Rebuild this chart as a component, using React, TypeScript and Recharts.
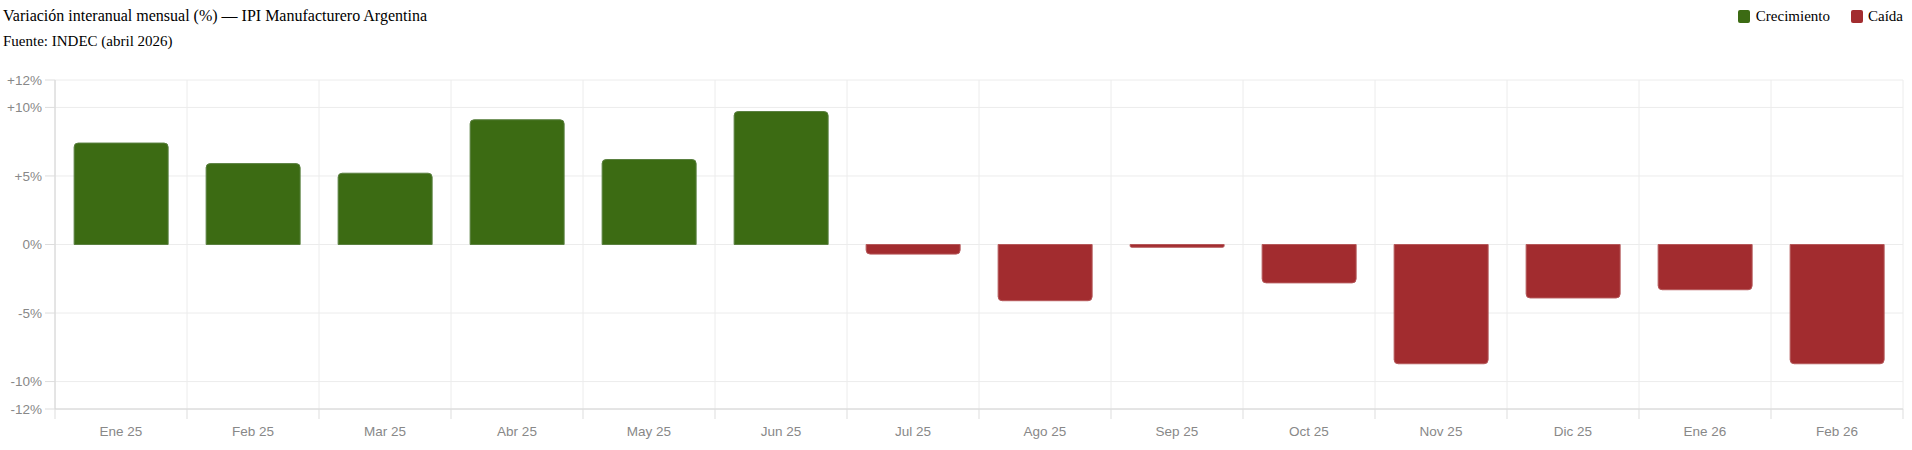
import React from 'react';
import { BarChart, Bar, Cell, XAxis, YAxis, CartesianGrid } from 'recharts';

const months = [
  'Ene 25', 'Feb 25', 'Mar 25', 'Abr 25', 'May 25', 'Jun 25', 'Jul 25',
  'Ago 25', 'Sep 25', 'Oct 25', 'Nov 25', 'Dic 25', 'Ene 26', 'Feb 26',
];
const variation = [7.4, 5.9, 5.2, 9.1, 6.2, 9.7, -0.7, -4.1, -0.2, -2.8, -8.7, -3.9, -3.3, -8.7];
const yTicks = [-12, -10, -5, 0, 5, 10, 12];

const GREEN = '#3c6b13';
const RED = '#a22c2f';
const AXIS_TEXT = '#888';
const SERIF = "'Liberation Serif', 'Times New Roman', serif";
const SANS = "Arial, 'Liberation Sans', sans-serif";

const data = months.map((m, i) => ({ month: m, value: variation[i] }));

const XTick = (props: any) => {
  const { x, y, payload, index } = props;
  const off = payload.offset || 0;
  const last = index === months.length - 1;
  return (
    <g>
      <line x1={x - off} x2={x - off} y1={y - 17} y2={y - 7} stroke="#ddd" />
      {last && <line x1={x + off} x2={x + off} y1={y - 17} y2={y - 7} stroke="#ddd" />}
      <text x={x} y={y} dy="0.71em" textAnchor="middle" fill={AXIS_TEXT} fontSize={13.5} fontFamily={SANS}>
        {payload.value}
      </text>
    </g>
  );
};

export default function App() {
  return (
    <div style={{ position: 'absolute', left: 0, top: 0, width: 1912, height: 450, background: '#fff' }}>
      <div style={{ position: 'absolute', left: 3, top: 6, fontSize: 16, lineHeight: '20px', fontFamily: SERIF, color: '#000' }}>
        Variación interanual mensual (%) — IPI Manufacturero Argentina
      </div>
      <div style={{ position: 'absolute', left: 3, top: 31, fontSize: 15, lineHeight: '20px', fontFamily: SERIF, color: '#000' }}>
        Fuente: INDEC (abril 2026)
      </div>
      <div style={{ position: 'absolute', right: 9, top: 6, display: 'flex', alignItems: 'center', fontSize: 15, lineHeight: '20px', fontFamily: SERIF, color: '#000' }}>
        <span style={{ display: 'inline-block', width: 12, height: 13, borderRadius: 2, background: GREEN, marginRight: 6 }} />
        <span style={{ marginRight: 21 }}>Crecimiento</span>
        <span style={{ display: 'inline-block', width: 12, height: 13, borderRadius: 2, background: RED, marginRight: 5 }} />
        <span>Caída</span>
      </div>
      <BarChart
        width={1912}
        height={450}
        data={data}
        margin={{ top: 80, right: 9, left: 0, bottom: 0 }}
        barCategoryGap="14.5%"
      >
        <CartesianGrid
          stroke="#ececec"
          horizontal
          vertical
          verticalCoordinatesGenerator={({ offset }: any) =>
            Array.from({ length: months.length + 1 }, (_, i) => offset.left + (i * offset.width) / months.length)
          }
        />
        <XAxis
          dataKey="month"
          interval={0}
          height={41}
          tickSize={0}
          tickMargin={17}
          tickLine={false}
          axisLine={{ stroke: '#d4d4d4' }}
          tick={<XTick />}
        />
        <YAxis
          width={55}
          domain={[-12, 12]}
          ticks={yTicks}
          interval={0}
          tickSize={10}
          tickMargin={3}
          tickLine={{ stroke: '#ddd' }}
          axisLine={{ stroke: '#d4d4d4' }}
          tick={{ fill: AXIS_TEXT, fontSize: 13.5, fontFamily: SANS }}
          tickFormatter={(v: number) => (v > 0 ? `+${v}%` : `${v}%`)}
        />
        <Bar dataKey="value" radius={[4, 4, 0, 0]} isAnimationActive={false} strokeWidth={1}>
          {data.map((d, i) => (
            <Cell key={i} fill={d.value >= 0 ? GREEN : RED} stroke={d.value >= 0 ? '#5a8040' : '#b5585a'} />
          ))}
        </Bar>
      </BarChart>
    </div>
  );
}
